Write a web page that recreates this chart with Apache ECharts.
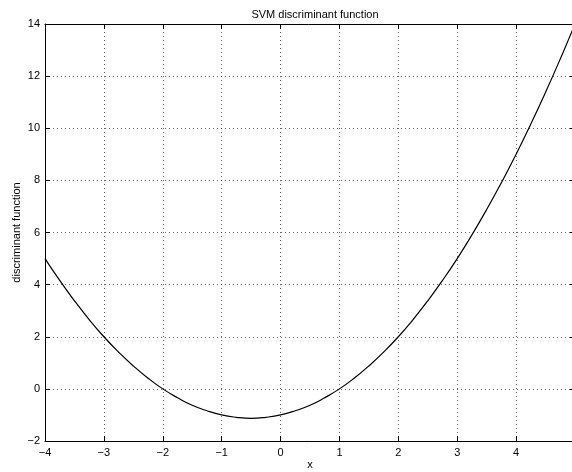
<!DOCTYPE html>
<html><head><meta charset="utf-8">
<script src="https://cdn.jsdelivr.net/npm/echarts@6/dist/echarts.min.js"></script>
<style>html,body{margin:0;padding:0;background:#fff}#c{width:572px;height:472px}</style>
</head><body><div id="c"></div>
<script>
const xs = [-4,-3.75,-3.5,-3.25,-3,-2.75,-2.5,-2.25,-2,-1.75,-1.5,-1.25,-1,-0.75,-0.5,-0.25,0,0.25,0.5,0.75,1,1.25,1.5,1.75,2,2.25,2.5,2.75,3,3.25,3.5,3.75,4,4.25,4.5,4.75,5];
const ys = [5,4.16,3.38,2.66,2,1.41,0.88,0.41,0,-0.34,-0.63,-0.84,-1,-1.09,-1.13,-1.09,-1,-0.84,-0.63,-0.34,0,0.41,0.88,1.41,2,2.66,3.38,4.16,5,5.91,6.88,7.91,9,10.16,11.38,12.66,14];
const titleText = 'SVM discriminant function';
const xName = 'x';
const yName = 'discriminant function';
const font = 'Liberation Sans, Arial, sans-serif';
const chart = echarts.init(document.getElementById('c'));
const gridLine = {show:true, lineStyle:{color:'#000', type:[1,3], width:1, opacity:0.6}};
const axisL = {show:true, onZero:false, lineStyle:{color:'#000', width:1}};
const tick = {show:true, inside:true, length:5, lineStyle:{color:'#000'}};
chart.setOption({
  animation:false,
  title:{text:titleText, left:310, top:4, textAlign:'center', textStyle:{fontFamily:font, fontSize:11, fontWeight:'normal', color:'#000'}},
  grid:{left:45, width:530, top:24, height:417, containLabel:false, outerBoundsMode:'none'},
  xAxis:[
    {type:'value', min:-4, max:5, interval:1, name:xName, nameLocation:'middle', nameGap:18, nameMoveOverlap:false,
     nameTextStyle:{fontFamily:font, fontSize:11, color:'#000'},
     axisLine:axisL, axisTick:tick, splitLine:gridLine,
     axisLabel:{fontFamily:font, fontSize:11, color:'#000', margin:6, showMaxLabel:true, showMinLabel:true, hideOverlap:false, alignMaxLabel:'center', formatter:v=>String(v).replace('-','\u2212')}},
    {type:'value', position:'top', min:-4, max:5, interval:1, axisLine:axisL, axisTick:tick, axisLabel:{show:false}, splitLine:{show:false}}
  ],
  yAxis:[
    {type:'value', min:-2, max:14, interval:2, name:yName, nameLocation:'middle', nameGap:23, nameMoveOverlap:false,
     nameTextStyle:{fontFamily:font, fontSize:11, color:'#000'},
     axisLine:axisL, axisTick:tick, splitLine:gridLine,
     axisLabel:{fontFamily:font, fontSize:11, color:'#000', margin:5, formatter:v=>String(v).replace('-','\u2212')}},
    {type:'value', position:'right', min:-2, max:14, interval:2, axisLine:axisL, axisTick:tick, axisLabel:{show:false}, splitLine:{show:false}}
  ],
  series:[{type:'line', data:xs.map((x,i)=>[x,ys[i]]), smooth:true, showSymbol:false, lineStyle:{color:'#000', width:1.2}}]
});
</script></body></html>
